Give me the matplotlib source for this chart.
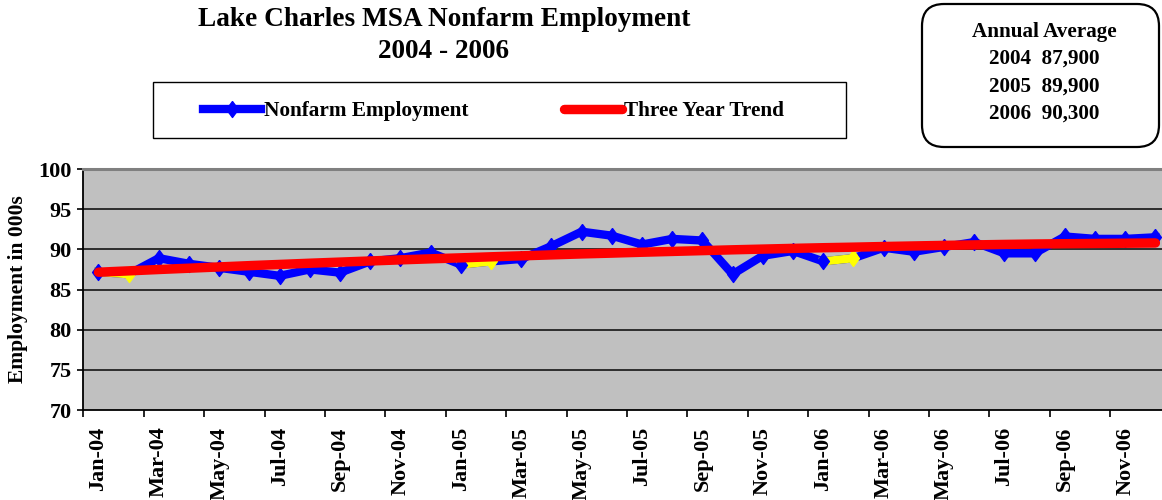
import matplotlib
matplotlib.use("Agg")
import matplotlib.pyplot as plt
from matplotlib.patches import Rectangle, FancyBboxPatch
from matplotlib.lines import Line2D

# ---- data -------------------------------------------------------------
month_abbr = ["Jan", "Feb", "Mar", "Apr", "May", "Jun",
              "Jul", "Aug", "Sep", "Oct", "Nov", "Dec"]
years = ["04", "05", "06"]
months = [f"{m}-{y}" for y in years for m in month_abbr]

# Nonfarm employment, thousands
employment = [87.2, 86.9, 88.9, 88.2, 87.7, 87.2, 86.7, 87.5, 87.1, 88.5, 88.9, 89.6,
              88.1, 88.5, 88.8, 90.4, 92.2, 91.7, 90.6, 91.3, 91.1, 86.9, 89.2, 89.8,
              88.5, 88.9, 90.2, 89.7, 90.3, 90.9, 89.5, 89.5, 91.6, 91.3, 91.3, 91.5]

# Three-year trend line, thousands
trend = [87.15, 87.32, 87.49, 87.65, 87.81, 87.97, 88.12, 88.27, 88.41, 88.55, 88.69, 88.82,
         88.94, 89.07, 89.19, 89.31, 89.43, 89.53, 89.64, 89.74, 89.84, 89.94, 90.03, 90.12,
         90.20, 90.27, 90.35, 90.42, 90.49, 90.55, 90.61, 90.66, 90.70, 90.73, 90.76, 90.79]

# February points (revised figures) shown in yellow
highlight = ["Feb-04", "Feb-05", "Feb-06"]

annual_years = ["2004", "2005", "2006"]
annual_avg = ["87,900", "89,900", "90,300"]

# ---- figure -----------------------------------------------------------
W, H = 1162, 500
fig = plt.figure(figsize=(W / 100, H / 100), dpi=100)
FONT = "Liberation Serif"


def fx(px):
    return px / W


def fy(py):
    return 1 - py / H


# plot area (the right edge runs past the canvas)
left, right, top, bottom = 83.3, 1170.5, 169, 410
ax = fig.add_axes([fx(left), fy(bottom), (right - left) / W, (bottom - top) / H])
ax.set_facecolor("#C0C0C0")

x = list(range(len(months)))
hl_idx = [months.index(m) for m in highlight]

diamond = [(0, 1), (0.74, 0), (0, -1), (-0.74, 0), (0, 1)]
MS = 11.5

ax.plot(x, employment, color="#0000FF", lw=6.0, solid_joinstyle="miter", zorder=3)
for i in hl_idx:
    ax.plot(x[i - 1:i + 1], employment[i - 1:i + 1], color="#FFFF00", lw=6.0, zorder=3.5)
normal_idx = [i for i in x if i not in hl_idx]
ax.plot([x[i] for i in normal_idx], [employment[i] for i in normal_idx], ls="none",
        marker=diamond, ms=MS, color="#0000FF", mec="#0000FF", zorder=4)
ax.plot([x[i] for i in hl_idx], [employment[i] for i in hl_idx], ls="none",
        marker=diamond, ms=MS, color="#FFFF00", mec="#FFFF00", zorder=4)
ax.plot(x, trend, color="#FF0000", lw=6.8, solid_capstyle="round", zorder=5)

ax.set_xlim(-0.5, len(months) - 0.5)
ax.set_ylim(70, 100)

# y axis
ax.set_yticks(range(70, 101, 5))
ax.set_yticklabels([str(v) for v in range(70, 101, 5)], fontfamily=FONT,
                   fontweight="bold", fontsize=16)
ax.tick_params(axis="y", direction="out", length=4.5, width=1.2, pad=4)
for v in range(75, 100, 5):
    ax.axhline(v, color="#222222", lw=1.3, zorder=1)

# x axis: tick marks between every second category, labels on categories
ax.set_xticks([i - 0.5 for i in range(0, len(months), 2)])
ax.set_xticklabels([])
ax.tick_params(axis="x", which="major", direction="out", length=5, width=1.2)
ax.set_xticks(x[::2], minor=True)
ax.set_xticklabels(months[::2], minor=True, rotation=90, fontfamily=FONT,
                   fontweight="bold", fontsize=16)
ax.tick_params(axis="x", which="minor", length=0, pad=12)

ax.set_ylabel("Employment in 000s", fontfamily=FONT, fontweight="bold",
              fontsize=15.5, labelpad=7)

for s in ("left", "bottom"):
    ax.spines[s].set_color("black")
    ax.spines[s].set_linewidth(1.3)
ax.spines["top"].set_color("#808080")
ax.spines["top"].set_linewidth(2.2)
ax.spines["right"].set_visible(False)

# ---- title ------------------------------------------------------------
fig.text(fx(444), fy(20), "Lake Charles MSA Nonfarm Employment", ha="center",
         va="center", fontfamily=FONT, fontweight="bold", fontsize=19.6)
fig.text(fx(444), fy(52), "2004 - 2006", ha="center", va="center",
         fontfamily=FONT, fontweight="bold", fontsize=19.6)

# ---- legend -----------------------------------------------------------
fig.patches.append(Rectangle((fx(153), fy(138)), fx(846) - fx(153), fy(82) - fy(138),
                             transform=fig.transFigure, fill=False,
                             edgecolor="black", lw=1.0))
h_emp = Line2D([], [], color="#0000FF", lw=6.0, marker=diamond, ms=MS)
h_trend = Line2D([], [], color="#FF0000", lw=6.8, solid_capstyle="round")
fig.legend([h_emp, h_trend], ["Nonfarm Employment", "Three Year Trend"],
           loc="center left", bbox_to_anchor=(fx(203), fy(111)), ncol=2,
           frameon=False, borderpad=0, borderaxespad=0, handlelength=2.75,
           handletextpad=0.1, columnspacing=4.5,
           prop={"family": FONT, "weight": "bold", "size": 15.3})

# ---- annual average box -------------------------------------------------
fig.patches.append(FancyBboxPatch((9.22, 3.53), 2.37, 1.43,
                                  boxstyle="round,pad=0,rounding_size=0.22",
                                  transform=fig.dpi_scale_trans, fill=False,
                                  edgecolor="black", lw=1.6))
fig.text(fx(1044), fy(32), "Annual Average", ha="center", va="center",
         fontfamily=FONT, fontweight="bold", fontsize=15.2)
for k, (yr, avg) in enumerate(zip(annual_years, annual_avg)):
    fig.text(fx(1044), fy(59 + 27.5 * k), f"{yr}  {avg}", ha="center", va="center",
             fontfamily=FONT, fontweight="bold", fontsize=15.2)

fig.savefig("out.png", dpi=100)
